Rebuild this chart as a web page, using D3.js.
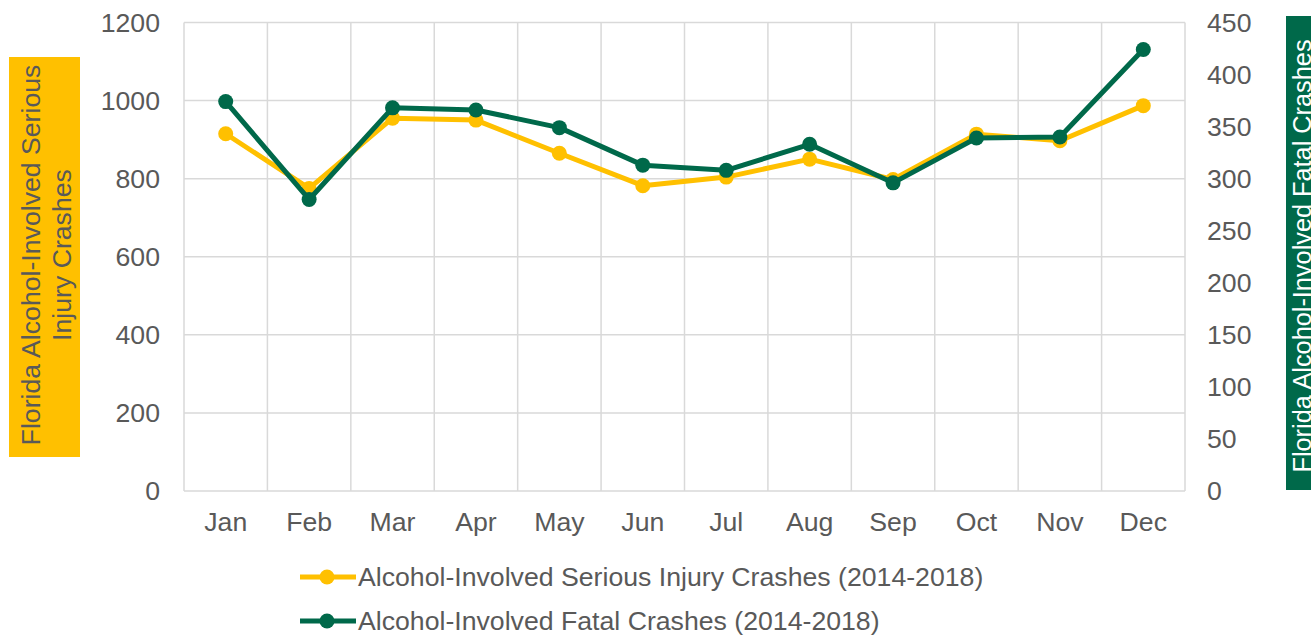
<!DOCTYPE html>
<html>
<head>
<meta charset="utf-8">
<script src="https://cdn.jsdelivr.net/npm/d3@7"></script>
<style>
  body { margin: 0; background: #fff; overflow: hidden; }
  text { font-family: 'Liberation Sans', Arial, sans-serif; }
</style>
</head>
<body>
<div id="chart"></div>
<script>
const months = ['Jan', 'Feb', 'Mar', 'Apr', 'May', 'Jun', 'Jul', 'Aug', 'Sep', 'Oct', 'Nov', 'Dec']
const injury = [915, 775, 955, 950, 865, 782, 804, 850, 798, 914, 897, 987]
const fatal = [374, 280, 368, 366, 349, 313, 308, 333, 296, 339, 340, 424]
const leftTicks = [0, 200, 400, 600, 800, 1000, 1200]
const rightTicks = [0, 50, 100, 150, 200, 250, 300, 350, 400, 450]
const seriesNames = ['Alcohol-Involved Serious Injury Crashes (2014-2018)', 'Alcohol-Involved Fatal Crashes (2014-2018)']
const leftTitle = ['Florida Alcohol-Involved Serious', 'Injury Crashes']
const rightTitle = 'Florida Alcohol-Involved Fatal Crashes'

const W = 1311, H = 637
const m = { top: 22.5, left: 184, right: 1185, bottom: 491 }
const yellow = '#ffc000', green = '#00694a', grey = '#595959', grid = '#d9d9d9'
const fs = '26.67px' // 20pt

const svg = d3.select('#chart').append('svg').attr('width', W).attr('height', H)

const x = d3.scaleBand().domain(months).range([m.left, m.right])
const yL = d3.scaleLinear().domain([0, 1200]).range([m.bottom, m.top])
const yR = d3.scaleLinear().domain([0, 450]).range([m.bottom, m.top])

// gridlines
const g = svg.append('g')
g.selectAll('.hg').data(leftTicks).join('line')
  .attr('x1', m.left).attr('x2', m.right)
  .attr('y1', d => yL(d)).attr('y2', d => yL(d))
  .attr('stroke', grid).attr('stroke-width', 1.5)
g.selectAll('.vg').data(months.concat(['end'])).join('line')
  .attr('x1', (d, i) => m.left + i * x.bandwidth()).attr('x2', (d, i) => m.left + i * x.bandwidth())
  .attr('y1', m.top).attr('y2', m.bottom)
  .attr('stroke', grid).attr('stroke-width', 1.5)

// axes
const axL = svg.append('g').attr('transform', `translate(${m.left - 24},0)`)
  .call(d3.axisLeft(yL).tickValues(leftTicks).tickFormat(d3.format('d')).tickSize(0).tickPadding(0))
const axR = svg.append('g').attr('transform', `translate(${m.right + 22},0)`)
  .call(d3.axisRight(yR).tickValues(rightTicks).tickFormat(d3.format('d')).tickSize(0).tickPadding(0))
const axB = svg.append('g').attr('transform', `translate(0,${m.bottom})`)
  .call(d3.axisBottom(x).tickSize(0).tickPadding(0))
;[axL, axR, axB].forEach(a => {
  a.select('.domain').remove()
  a.selectAll('text').attr('fill', grey).style('font-size', fs)
    .style('font-family', "'Liberation Sans', Arial, sans-serif")
})
axB.selectAll('text').attr('y', 40).attr('dy', 0)

// axis titles
svg.append('rect').attr('x', 9).attr('y', 57).attr('width', 71).attr('height', 400).attr('fill', yellow)
const lt = svg.append('text')
  .attr('transform', `translate(0,255) rotate(-90)`)
  .attr('text-anchor', 'middle').attr('fill', grey).style('font-size', fs)
lt.selectAll('tspan').data(leftTitle).join('tspan')
  .attr('x', 0).attr('y', (d, i) => 40 + i * 31).text(d => d)

svg.append('rect').attr('x', 1286).attr('y', 16).attr('width', 60).attr('height', 474).attr('fill', green)
svg.append('text')
  .attr('transform', `translate(1311,256) rotate(-90)`)
  .attr('text-anchor', 'middle').attr('fill', '#fff').style('font-size', '25.3px')
  .text(rightTitle)

// lines
const cx = d => x(d) + x.bandwidth() / 2
const series = [
  { vals: injury, y: yL, color: yellow },
  { vals: fatal, y: yR, color: green }
]
series.forEach(s => {
  const line = d3.line().x((d, i) => cx(months[i])).y(d => s.y(d))
  svg.append('path').datum(s.vals).attr('d', line)
    .attr('fill', 'none').attr('stroke', s.color).attr('stroke-width', 5).attr('stroke-linejoin', 'round')
  svg.append('g').selectAll('circle').data(s.vals).join('circle')
    .attr('cx', (d, i) => cx(months[i])).attr('cy', d => s.y(d)).attr('r', 7.5).attr('fill', s.color)
})

// legend
const leg = svg.append('g')
seriesNames.forEach((name, i) => {
  const yy = 577 + i * 44
  leg.append('line').attr('x1', 300).attr('x2', 356).attr('y1', yy).attr('y2', yy)
    .attr('stroke', series[i].color).attr('stroke-width', 5)
  leg.append('circle').attr('cx', 327).attr('cy', yy).attr('r', 7.5).attr('fill', series[i].color)
  leg.append('text').attr('x', 358).attr('y', yy).attr('dy', '0.35em')
    .attr('fill', grey).style('font-size', fs).text(name)
})
</script>
</body>
</html>
